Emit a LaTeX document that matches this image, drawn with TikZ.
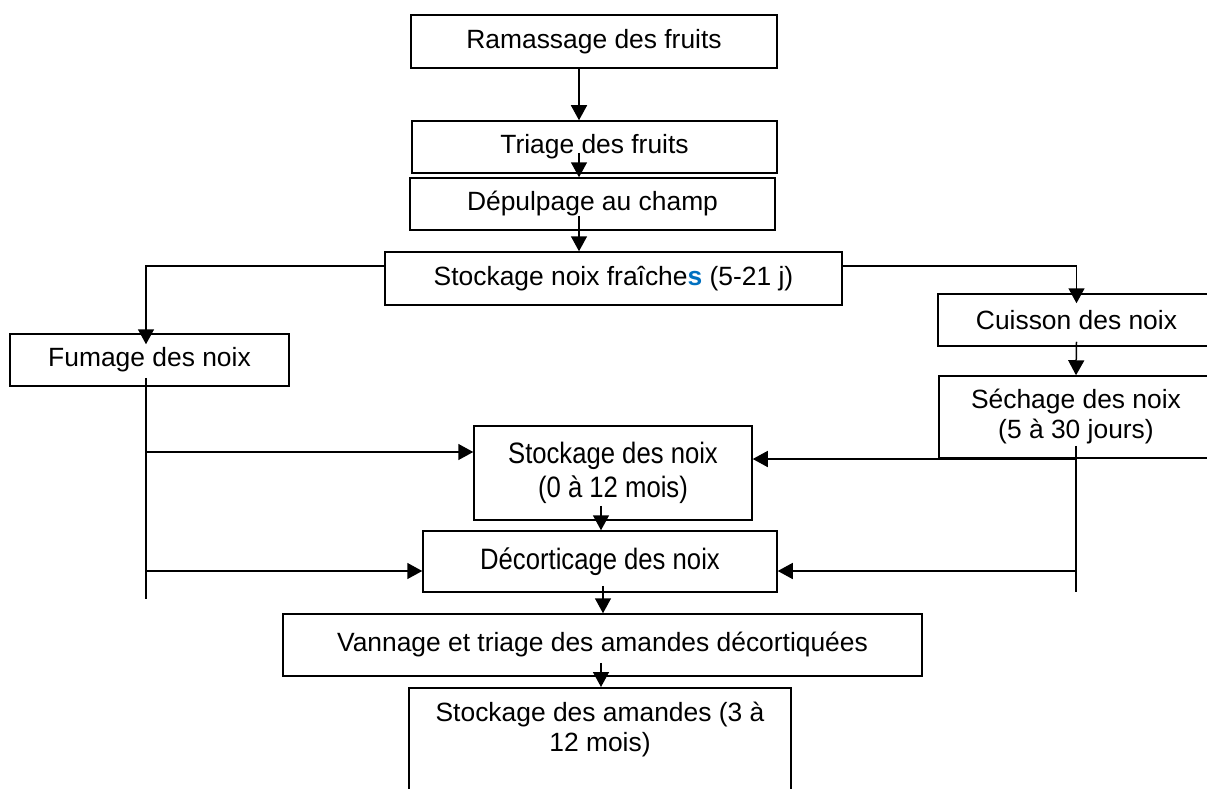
\documentclass[tikz,border=0pt]{standalone}
\usepackage{fontspec}
\setmainfont{Liberation Sans}
\newfontfamily\narrowsans[FakeStretch=0.87]{Liberation Sans}
\usetikzlibrary{arrows.meta}
\definecolor{sblue}{RGB}{0,112,192}

\begin{document}
\begin{tikzpicture}[x=1pt,y=-1pt,line width=1.5pt,
  arr/.style={-{Triangle[length=15pt,width=16pt]}},
  narrow/.style={font=\narrowsans\fontsize{29.5pt}{34pt}\selectfont}]
 \useasboundingbox (0,0) rectangle (1207,789);
 \clip (0,0) rectangle (1207,789);
          \begin{scope}[every node/.style={rectangle, draw, inner sep=0pt, align=center, font=\fontsize{26.4pt}{30pt}\selectfont}]
          \node[minimum width=366pt, minimum height=53pt] (ram) at (594,41.5) {Ramassage des fruits};
          \node[minimum width=365pt, minimum height=52pt] (tri) at (594.5,147) {Triage des fruits};
          \node[minimum width=365pt, minimum height=52pt] (dep) at (592.5,204) {Dépulpage au champ};
          \node[minimum width=457pt, minimum height=53pt] (stf) at (613.5,278.5) {Stockage noix fraîche{\color{sblue}\bfseries s} (5-21 j)};
          \node[minimum width=279pt, minimum height=52pt] (fum) at (149.5,360) {Fumage des noix};
          \node[minimum width=277pt, minimum height=52pt] (cui) at (1076.5,320) {Cuisson des noix};
          \node[minimum width=274pt, minimum height=82pt] (sec) at (1076,417) {Séchage des noix\\(5 à 30 jours)};
          \node[narrow, minimum width=278pt, minimum height=94pt] (stn) at (613,473) {Stockage des noix\\(0 à 12 mois)};
          \node[narrow, minimum width=354pt, minimum height=61pt] (dec) at (600,561.5) {Décorticage des noix};
          \node[minimum width=639pt, minimum height=62pt] (van) at (602.5,645) {Vannage et triage des amandes décortiquées};
          \node[minimum width=382pt, inner ysep=14pt, text depth=80pt, anchor=north] (ama) at (600,687) {Stockage des amandes (3 à\\12 mois)};
          \end{scope}
          \coordinate (fumend) at (146,599);
          \coordinate (secend) at (1076,592);
          \draw[arr] ([xshift=-15pt]ram.south) -- ([xshift=-15.5pt]tri.north);
          \draw[arr] ([xshift=-15.5pt,yshift=21pt]tri.south) -- ([xshift=-13.5pt]dep.north);
          \draw[arr] ([xshift=-13.5pt,yshift=15pt]dep.south) -- ([xshift=-34.5pt]stf.north);
          \draw[arr] ([yshift=12.5pt]stf.west) -| ([xshift=-3.5pt,yshift=-11pt]fum.north);
          \draw[arr] ([yshift=12.5pt]stf.east) -| ([yshift=-10pt]cui.north);
          \draw[arr] ([yshift=5pt]cui.south) -- (sec.north);
          \draw ([xshift=-3.5pt,yshift=9pt]fum.south) -- (fumend);
          \draw ([yshift=13pt]sec.south) -- (secend);
          \coordinate (inS) at ([yshift=21pt]stn.west);
          \coordinate (inD) at ([yshift=-9.5pt]dec.west);
          \coordinate (inS2) at ([yshift=14pt]stn.east);
          \coordinate (inD2) at ([yshift=-9.5pt]dec.east);
          \draw[arr] (fumend |- inS) -- (inS);
          \draw[arr] (fumend |- inD) -- (inD);
          \draw[arr] (secend |- inS2) -- (inS2);
          \draw[arr] (secend |- inD2) -- (inD2);
          \draw[arr] ([xshift=-12pt,yshift=15pt]stn.south) -- ([xshift=1pt]dec.north);
          \draw[arr] ([xshift=3pt,yshift=7pt]dec.south) -- ([xshift=0.5pt]van.north);
          \draw[arr] ([xshift=-1.5pt,yshift=14pt]van.south) -- ([xshift=1pt]ama.north);
          \end{tikzpicture}
\end{document}
